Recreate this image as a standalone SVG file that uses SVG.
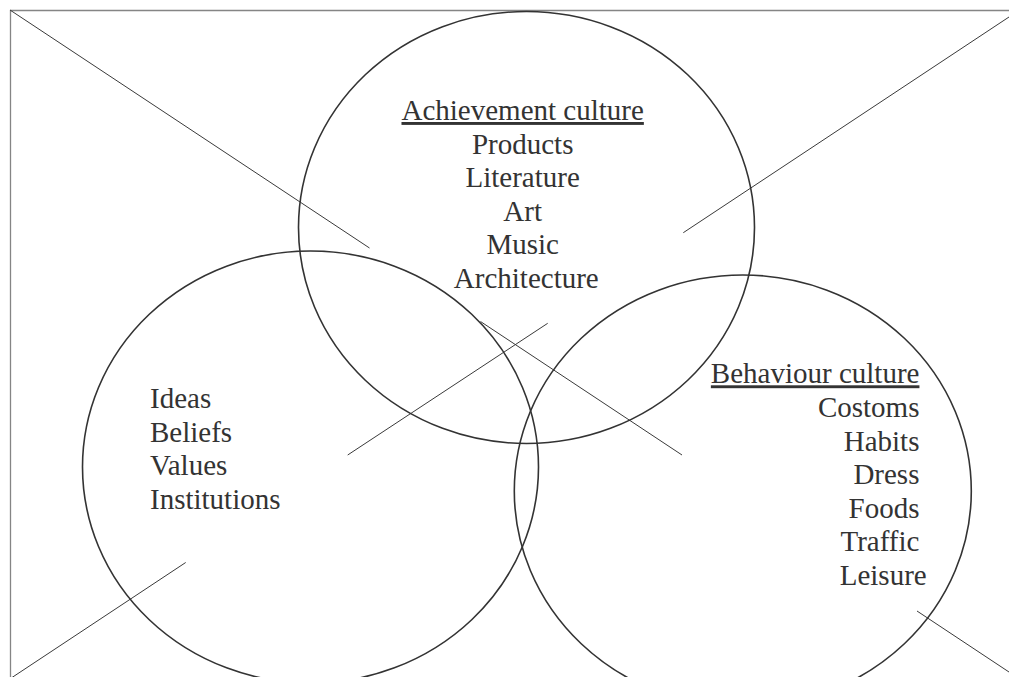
<svg xmlns="http://www.w3.org/2000/svg" width="1009" height="677" viewBox="0 0 1009 677">
<style>
.frame{stroke:#858585;stroke-width:1.3;fill:none}
.ln{stroke:#3a3a3a;stroke-width:1;fill:none}
.circ{stroke:#333;stroke-width:1.6;fill:none}
.t{font-family:"Liberation Serif","Times New Roman",serif;font-size:29px;fill:#333}
.u{text-decoration:underline}
</style>
<rect width="1009" height="677" fill="#fff"/>
<g id="frame">
<line class="frame" x1="10" y1="10.5" x2="1009" y2="10.5"/>
<line class="frame" x1="10.5" y1="10" x2="10.5" y2="677"/>
</g>
<g id="connectors">
<line class="ln" x1="10" y1="10" x2="369.5" y2="248"/>
<line class="ln" x1="480.5" y1="321.5" x2="682" y2="455"/>
<line class="ln" x1="917" y1="611" x2="1009" y2="672"/>
<line class="ln" x1="1009" y1="17" x2="683.3" y2="232.7"/>
<line class="ln" x1="547.7" y1="323.3" x2="347.7" y2="455"/>
<line class="ln" x1="185.7" y1="562.5" x2="12" y2="677.5"/>
</g>
<g id="achievement">
<ellipse class="circ" cx="526.5" cy="227.5" rx="228" ry="216"/>
<text class="t" text-anchor="middle">
<tspan class="u" x="526.3" y="120">Achievement culture</tspan>
<tspan x="526.3" y="153.5">Products</tspan>
<tspan x="526.3" y="187">Literature</tspan>
<tspan x="526.3" y="220.5">Art</tspan>
<tspan x="526.3" y="254">Music</tspan>
<tspan x="526.3" y="287.5">Architecture</tspan>
</text>
</g>
<g id="ideas">
<ellipse class="circ" cx="310.5" cy="467" rx="228" ry="216"/>
<text class="t">
<tspan x="150" y="408.3">Ideas</tspan>
<tspan x="150" y="441.8">Beliefs</tspan>
<tspan x="150" y="475.3">Values</tspan>
<tspan x="150" y="508.8">Institutions</tspan>
</text>
</g>
<g id="behaviour">
<ellipse class="circ" cx="742.8" cy="491" rx="228.5" ry="216"/>
<text class="t" text-anchor="end">
<tspan class="u" x="926.7" y="383.3">Behaviour culture</tspan>
<tspan x="926.7" y="416.9">Costoms</tspan>
<tspan x="926.7" y="450.5">Habits</tspan>
<tspan x="926.7" y="484.1">Dress</tspan>
<tspan x="926.7" y="517.7">Foods</tspan>
<tspan x="926.7" y="551.3">Traffic</tspan>
<tspan x="926.7" y="584.9">Leisure</tspan>
</text>
</g>
</svg>
